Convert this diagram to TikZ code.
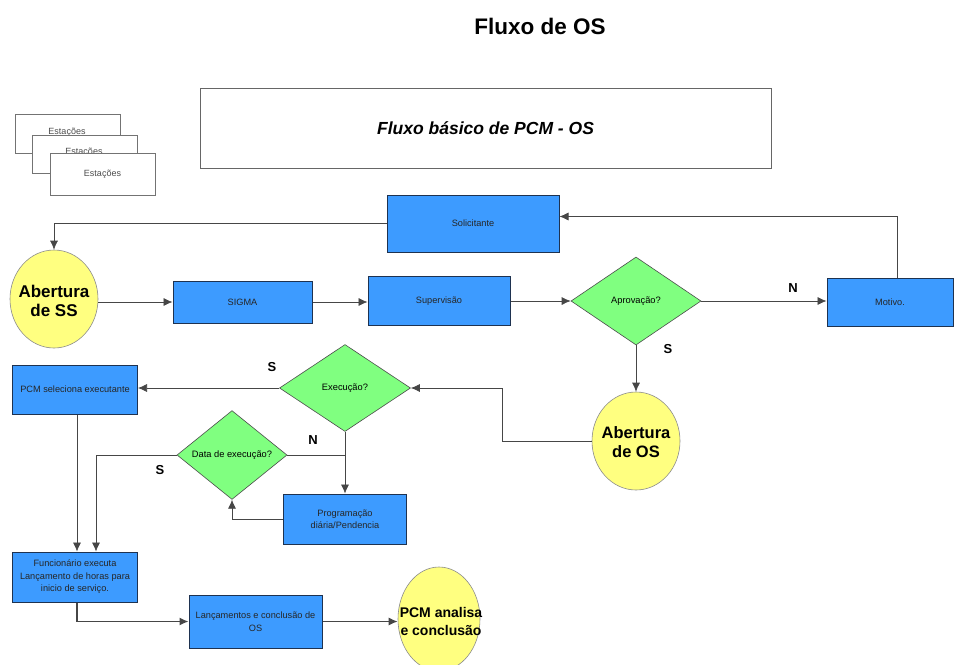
\documentclass[tikz,border=0pt]{standalone}
\usepackage{fontspec}
\setmainfont{Liberation Sans}
\usetikzlibrary{arrows.meta,shapes.geometric}
\definecolor{boxblue}{RGB}{61,155,255}
\definecolor{boxedge}{RGB}{30,50,80}
\definecolor{dgreen}{RGB}{128,255,128}
\definecolor{cyell}{RGB}{255,255,128}
\definecolor{lgray}{RGB}{70,70,70}
\tikzset{
  bluebox/.style={draw=boxedge, line width=1pt, fill=boxblue, inner sep=1pt, align=center, font=\fontsize{9.2}{12.5}\selectfont, text=black!85},
  decision/.style={diamond, draw=black!70, line width=0.6pt, fill=dgreen, inner sep=0pt, align=center, font=\fontsize{9.3}{11}\selectfont},
  terminal/.style={ellipse, draw=black!45, line width=0.6pt, fill=cyell, inner sep=0pt},
  ttext/.style={align=center, inner sep=0pt, font=\bfseries\fontsize{17}{19}\selectfont},
  stack/.style={draw=black!55, line width=0.8pt, fill=white, font=\fontsize{9}{10}\selectfont, text=black!70},
  conn/.style={draw=lgray, line width=0.7pt},
  arr/.style={conn, -{Latex[length=9pt,width=8pt]}},
  lbl/.style={font=\bfseries\fontsize{13}{14}\selectfont}
}
\begin{document}
\begin{tikzpicture}[x=1pt,y=-1pt]
\useasboundingbox (0,0) rectangle (955,664);
\fill[white] (0,0) rectangle (955,664);
% title
\node[font=\bfseries\fontsize{22.5}{24}\selectfont] (title) at (540,26) {Fluxo de OS};
\node[draw=black!60, line width=0.8pt, minimum width=571, minimum height=80, font=\bfseries\itshape\fontsize{17.5}{19}\selectfont] (head) at (485.5,128) {Fluxo básico de PCM - OS};
% stacked Estações
\node[stack, minimum width=105, minimum height=39] (st1) at (67.5,134) {};
\node[font=\fontsize{9}{10}\selectfont, text=black!70] (st1t) at (67,132) {Estações};
\node[stack, minimum width=105, minimum height=38] (st2) at (84.5,154) {};
\node[font=\fontsize{9}{10}\selectfont, text=black!70] (st2t) at (84,152) {Estações};
\node[stack, minimum width=105, minimum height=42] (st3) at (102.5,174) {Estações};
% nodes
\node[bluebox, minimum width=172, minimum height=57] (sol) at (473,223.5) {Solicitante};
\node[terminal, minimum width=88, minimum height=98] (absSS) at (54,299) {};
\node[ttext] (absSSt) at (54,301) {Abertura\\de SS};
\node[bluebox, minimum width=139, minimum height=42] (sigma) at (242.5,302) {SIGMA};
\node[bluebox, minimum width=142, minimum height=49] (sup) at (439,301) {Supervisão};
\node[decision, minimum width=130, minimum height=88] (apr) at (636,301) {Aprovação?};
\node[bluebox, minimum width=126, minimum height=48] (mot) at (890,302) {Motivo.};
\node[terminal, minimum width=88, minimum height=98] (absOS) at (636,441) {};
\node[ttext, font=\bfseries\fontsize{16.5}{19}\selectfont] (absOSt) at (636,442) {Abertura\\de OS};
\node[decision, minimum width=131, minimum height=87] (exe) at (345,388) {Execução?};
\node[bluebox, minimum width=125, minimum height=49] (pcmsel) at (75,389.5) {PCM seleciona executante};
\node[decision, minimum width=110, minimum height=84] (data) at (232,455) {Data de execução?};
\node[bluebox, minimum width=123, minimum height=50] (prog) at (345,519) {Programação\\diária/Pendencia};
\node[bluebox, minimum width=125, minimum height=50] (func) at (75,577) {Funcionário executa\\Lançamento de horas para\\inicio de serviço.};
\node[bluebox, minimum width=133, minimum height=53] (lanc) at (255.5,621.5) {Lançamentos e conclusão de\\OS};
\node[terminal, minimum width=82, minimum height=104] (pcman) at (439,619) {};
\node[ttext, font=\bfseries\fontsize{14}{18}\selectfont] (pcmant) at (441,621) {PCM analisa\\e conclusão};
% labels
\node[lbl] (lN1) at (793,288) {N};
\node[lbl] (lS1) at (668,349) {S};
\node[lbl] (lS2) at (272,367) {S};
\node[lbl] (lN2) at (313,440) {N};
\node[lbl] (lS3) at (160,470) {S};
% connectors
\draw[arr] ([xshift=7pt]mot.north) |- ([yshift=7pt]sol.east);
\draw[arr] (sol.west) -| (absSS.north);
\draw[arr] (absSS.east |- sigma.west) -- (sigma.west);
\draw[arr] (sigma.east) -- (sigma.east -| sup.west);
\draw[arr] (sup.east) -- (sup.east -| apr.west);
\draw[arr] (apr.east) -- (apr.east -| mot.west);
\draw[arr] (apr.south) -- (absOS.north);
\coordinate (k1) at (502,441);
\draw[arr] (absOS.west |- k1) -- (k1) |- (exe.east);
\draw[arr] (exe.west) -- (exe.west -| pcmsel.east);
\draw[arr] (exe.south) -- (prog.north);
\draw[conn] (exe.south |- data.east) -- (data.east);
\draw[arr] (prog.west) -| (data.south);
\draw[arr] (data.west) -| ([xshift=21pt]func.north);
\draw[arr] ([xshift=2pt]pcmsel.south) -- ([xshift=2pt]func.north);
\draw[arr, line width=1.3pt] ([xshift=2pt]func.south) |- (lanc.west);
\draw[arr, line width=1.3pt] (lanc.east) -- (lanc.east -| pcman.west);
\end{tikzpicture}
\end{document}
